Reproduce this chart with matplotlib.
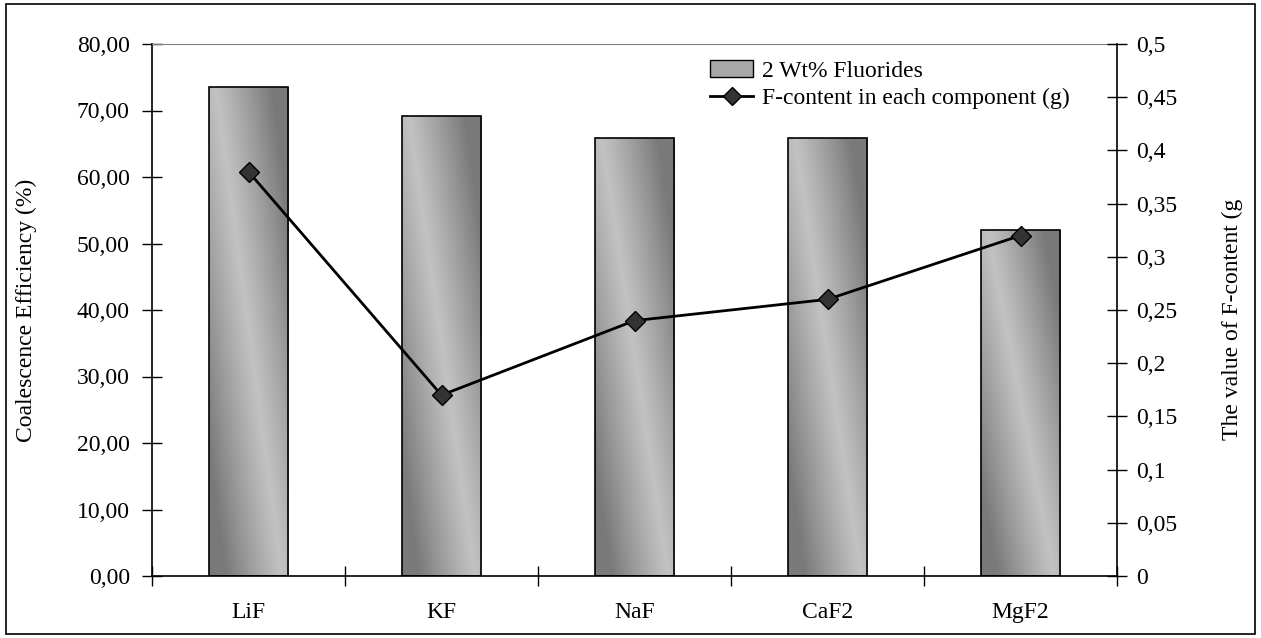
import matplotlib
matplotlib.use("Agg")
import matplotlib.pyplot as plt
import numpy as np
from matplotlib.lines import Line2D
from matplotlib.patches import Patch, Rectangle

# values
categories = ["LiF", "KF", "NaF", "CaF2", "MgF2"]
efficiency = [73.6, 69.2, 65.9, 65.9, 52.0]
f_content = [0.38, 0.17, 0.24, 0.26, 0.32]

left_ticks = [0, 10, 20, 30, 40, 50, 60, 70, 80]
right_ticks = [0, 0.05, 0.1, 0.15, 0.2, 0.25, 0.3, 0.35, 0.4, 0.45, 0.5]

plt.rcParams["font.family"] = ["Liberation Serif", "DejaVu Serif"]
plt.rcParams["font.size"] = 17

fig = plt.figure(figsize=(12.61, 6.38), dpi=100)
ax = fig.add_axes([152 / 1261, 1 - 576 / 638, 965 / 1261, 532 / 638])

# outer frame around the whole chart
fig.patches.append(Rectangle((6 / 1261, 4 / 638), 1249 / 1261, 630 / 638,
                             transform=fig.transFigure, fill=False,
                             edgecolor="black", linewidth=1.2))

x = np.arange(len(categories))
bars = ax.bar(x, efficiency, width=0.41, facecolor="none", edgecolor="black",
              linewidth=1.2, zorder=3)

# diagonal grey gradient inside each bar (light band runs top-left to bottom-right)
u = np.linspace(0, 1, 120)
v = np.linspace(0, 1, 200)
U, V = np.meshgrid(u, v)
centre = 0.92 - 0.84 * V
d = np.clip(np.abs(U - centre) / 0.7, 0, 1)
grad = 0.76 - (0.76 - 0.48) * d ** 1.1
for b in bars:
    x0, w, h = b.get_x(), b.get_width(), b.get_height()
    im = ax.imshow(grad, cmap="gray", vmin=0, vmax=1, origin="lower",
                   extent=(x0, x0 + w, 0, h), aspect="auto", zorder=2)
    im.set_clip_path(b)

ax.set_xlim(-0.5, len(categories) - 0.5)
ax.set_ylim(0, 80)
ax.set_yticks(left_ticks)
ax.set_yticklabels([f"{t:.2f}".replace(".", ",") for t in left_ticks])
ax.set_xticks(x)
ax.set_xticklabels(categories)
ax.set_xticks(np.arange(-0.5, len(categories), 1), minor=True)
ax.tick_params(axis="x", which="major", length=0, pad=19)
ax.tick_params(axis="x", which="minor", direction="inout", length=14, width=1)
ax.tick_params(axis="y", direction="inout", length=14, width=1, pad=9)
ax.set_ylabel("Coalescence Efficiency (%)")
ax.yaxis.set_label_coords(-0.119, 0.5)
for s in ["left", "bottom"]:
    ax.spines[s].set_linewidth(1.2)
ax.spines["top"].set_color("#808080")
ax.spines["top"].set_linewidth(0.8)
ax.spines["right"].set_visible(False)

ax2 = ax.twinx()
ax2.plot(x, f_content, color="black", linewidth=2, marker="D", markersize=10,
         markerfacecolor="#333333", markeredgecolor="black", markeredgewidth=1,
         zorder=5)
ax2.set_ylim(0, 0.5)
ax2.set_yticks(right_ticks)
ax2.set_yticklabels([("%g" % t).replace(".", ",") for t in right_ticks])
ax2.tick_params(axis="y", direction="inout", length=14, width=1, pad=7)
ax2.set_ylabel("The value of F-content (g")
ax2.yaxis.set_label_coords(1.109, 0.483)
ax2.spines["right"].set_linewidth(1.2)
for s in ["left", "top", "bottom"]:
    ax2.spines[s].set_visible(False)

handles = [Patch(facecolor="#a8a8a8", edgecolor="black", linewidth=1),
           Line2D([], [], color="black", linewidth=2, marker="D", markersize=9,
                  markerfacecolor="#333333", markeredgecolor="black")]
labels = ["2 Wt% Fluorides", "F-content in each component (g)"]
ax2.legend(handles, labels, loc="upper left",
           bbox_to_anchor=(701 / 1261, 1 - 51 / 638),
           bbox_transform=fig.transFigure, frameon=False, handlelength=1.8,
           handletextpad=0.4, labelspacing=0.25, borderaxespad=0)

fig.savefig("out.png", dpi=100)
